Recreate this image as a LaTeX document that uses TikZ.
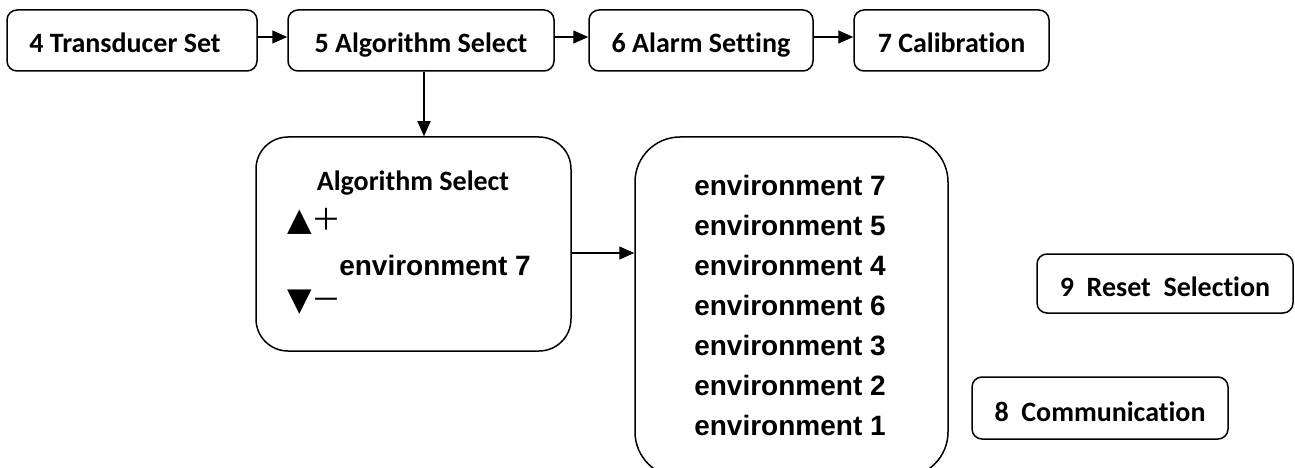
\documentclass[tikz,border=0pt]{standalone}
\usepackage{fontspec}
\setmainfont{Carlito}[Ligatures=NoCommon]
\newfontfamily\arialfont{Liberation Sans}
\newfontfamily\symfont{DejaVu Sans}
\newfontfamily\cjkfont{Noto Sans CJK SC}
\usetikzlibrary{arrows.meta}
\begin{document}
\begin{tikzpicture}[x=1pt,y=1pt,
  box/.style={draw,line width=1.5pt,rounded corners=10pt,minimum height=61pt,inner sep=0pt},
  lbl/.style={font=\fontsize{28}{30}\selectfont\bfseries},
  env/.style={font=\arialfont\fontsize{28}{30}\selectfont\bfseries,inner sep=0pt},
  conn/.style={line width=1.3pt,-{Triangle[length=15pt,width=13pt]}}]
\useasboundingbox (0,0) rectangle (1295,-468);
\clip (0,0) rectangle (1295,-468);
% top row
\node[box,minimum width=250pt] (b4) at (132,-40.5) {};
\node[lbl,anchor=base] at (125,-53) {4 Transducer Set};
\node[box,minimum width=266pt] (b5) at (421,-40.5) {};
\node[lbl,anchor=base] at (421,-53) {5 Algorithm Select};
\node[box,minimum width=224pt] (b6) at (701,-40.5) {};
\node[lbl,anchor=base] at (701,-53) {6 Alarm Setting};
\node[box,minimum width=195pt] (b7) at (951.5,-40.5) {};
\node[lbl,anchor=base] at (951.5,-53) {7 Calibration};
\draw[conn] (b4.east |- 0,-37) -- (b5.west |- 0,-37);
\draw[conn] (b5.east |- 0,-37) -- (b6.west |- 0,-37);
\draw[conn] (b6.east |- 0,-37) -- (b7.west |- 0,-37);
% algorithm select box
\node[draw,line width=1.5pt,rounded corners=32pt,minimum width=315pt,minimum height=214pt,inner sep=0pt] (alg) at (413.5,-244) {};
\draw[conn] (b5.south -| 424,0) -- (alg.north -| 424,0);
\node[lbl,anchor=base] (algt) at (413,-190) {Algorithm Select};
\node[anchor=base west,inner sep=0pt] (up) at (287,-230) {{\symfont\fontsize{32}{34}\selectfont ▲}{\cjkfont\fontsize{30}{32}\selectfont ＋}};
\node[env,anchor=base] (cur) at (435,-275) {environment 7};
\node[anchor=base west,inner sep=0pt] (dn) at (287,-310) {{\symfont\fontsize{32}{34}\selectfont ▼}{\cjkfont\fontsize{30}{32}\selectfont －}};
% list box
\node[draw,line width=1.5pt,rounded corners=45pt,minimum width=313pt,minimum height=340pt,inner sep=0pt] (list) at (791.5,-307) {};
\draw[conn] (alg.east |- 0,-253) -- (list.west |- 0,-253);
\node[env,anchor=base] (e7) at (790,-195) {environment 7};
\node[env,anchor=base] (e5) at (790,-235) {environment 5};
\node[env,anchor=base] (e4) at (790,-275) {environment 4};
\node[env,anchor=base] (e6) at (790,-315) {environment 6};
\node[env,anchor=base] (e3) at (790,-355) {environment 3};
\node[env,anchor=base] (e2) at (790,-395) {environment 2};
\node[env,anchor=base] (e1) at (790,-435) {environment 1};
% right boxes
\node[box,minimum width=256pt,minimum height=59pt] (b9) at (1165,-283.5) {};
\node[lbl,anchor=base] at (1165,-296) {9\ \ Reset\ \ Selection};
\node[box,minimum width=256pt,minimum height=62pt] (b8) at (1100,-408) {};
\node[lbl,anchor=base] at (1100,-421) {8\ \ Communication};
\end{tikzpicture}
\end{document}
